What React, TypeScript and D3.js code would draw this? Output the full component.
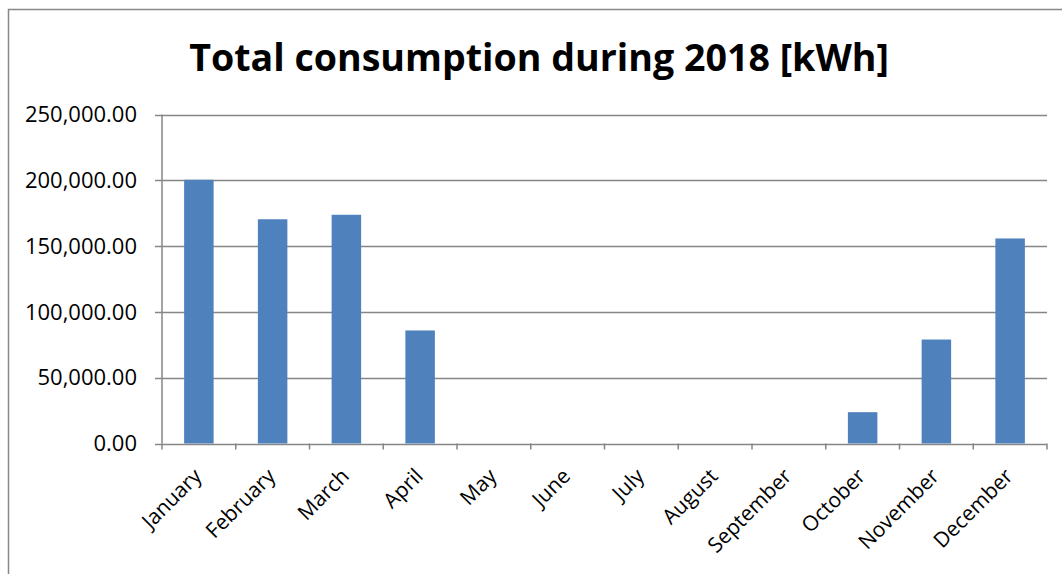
import React from "react";
import * as d3 from "d3";

const months = ["January","February","March","April","May","June","July","August","September","October","November","December"];
const consumption = [200400, 170400, 173800, 85900, 0, 0, 0, 0, 0, 23800, 79000, 155800];
const yTicks = [0, 50000, 100000, 150000, 200000, 250000];
const title = "Total consumption during 2018 [kWh]";

export default function App() {
  const left = 162, right = 1047, top = 114.5, bottom = 443.5;
  const x = d3.scaleBand<string>().domain(months).range([left, right]).paddingInner(0.6).paddingOuter(0.3);
  const xb = d3.scaleBand<string>().domain(months).range([left, right]);
  const y = d3.scaleLinear().domain([0, 250000]).range([bottom, top]);
  const fmt = d3.format(",.2f");
  const grid = "#868686";
  const font = "'Open Sans', sans-serif";
  return (
    <svg width={1062} height={574} style={{ position: "absolute", left: 0, top: 0, background: "#fff" }}>
      <rect x={8.5} y={9.5} width={1100} height={600} fill="#fff" stroke="#888" strokeWidth={1.5} />
      <text x={539} y={71} textAnchor="middle" fontFamily={font} fontWeight="bold" fontSize={37.6} fill="#000">{title}</text>
      {yTicks.map((t) => (
        <g key={t}>
          <line x1={left - 7} x2={right} y1={Math.round(y(t)) + 0.5} y2={Math.round(y(t)) + 0.5} stroke={grid} strokeWidth={1.5} />
          <text x={137} y={y(t)} dy="0.35em" textAnchor="end" fontFamily={font} fontSize={22} fill="#000">{fmt(t)}</text>
        </g>
      ))}
      <line x1={left} x2={left} y1={top} y2={bottom} stroke={grid} strokeWidth={1.5} />
      {months.map((m) => (
        <line key={"t" + m} x1={xb(m)!} x2={xb(m)!} y1={bottom} y2={bottom + 6} stroke={grid} strokeWidth={1.5} />
      ))}
      <line x1={right} x2={right} y1={bottom} y2={bottom + 6} stroke={grid} strokeWidth={1.5} />
      {months.map((m, i) => (
        <rect key={m} x={x(m)!} width={x.bandwidth()} y={y(consumption[i])} height={bottom - y(consumption[i])} fill="#4F81BD" />
      ))}
      {months.map((m) => {
        const cx = xb(m)! + xb.bandwidth() / 2 + 4;
        const cy = bottom + 34;
        return (
          <text key={"l" + m} x={cx} y={cy} transform={`rotate(-45 ${cx} ${cy})`} textAnchor="end" fontFamily={font} fontSize={21} fill="#000">{m}</text>
        );
      })}
    </svg>
  );
}
